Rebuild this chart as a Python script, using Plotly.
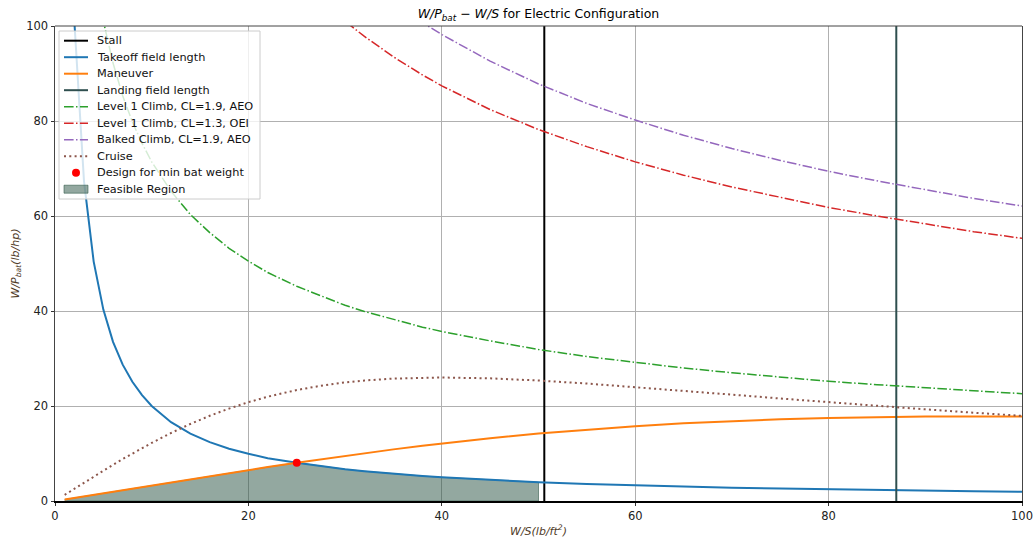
import numpy as np
import plotly.graph_objects as go

# Wing loading W/S (lb/ft^2) at which each constraint is tabulated
ws = [1, 2, 3, 4, 5, 6, 7, 8, 9, 10, 12, 14, 16, 18, 20, 22, 25, 28, 30, 32,
      35, 38, 40, 45, 50, 55, 60, 65, 70, 75, 80, 85, 90, 95, 100]

# Battery power loading W/P_bat (lb/hp) for each constraint
takeoff = [202.0, 101.0, 67.3, 50.4, 40.3, 33.5, 28.7, 25.1, 22.3, 20.0, 16.6,
           14.2, 12.4, 11.0, 9.95, 9.0, 8.06, 7.18, 6.69, 6.27, 5.72, 5.26, 4.99,
           4.42, 3.96, 3.59, 3.28, 3.02, 2.80, 2.61, 2.44, 2.29, 2.16, 2.04, 1.93]
maneuver = [0.32, 0.65, 0.97, 1.30, 1.63, 1.96, 2.29, 2.62, 2.95, 3.28, 3.94,
            4.59, 5.24, 5.88, 6.52, 7.14, 8.06, 8.95, 9.52, 10.07, 10.87, 11.63,
            12.11, 13.22, 14.20, 15.05, 15.76, 16.36, 16.83, 17.20, 17.47, 17.66,
            17.77, 17.81, 17.80]
climb_aeo = [225.8, 159.7, 130.4, 112.9, 101.0, 92.2, 85.3, 79.8, 75.3, 71.4,
             65.2, 60.3, 56.5, 53.2, 50.5, 48.1, 45.2, 42.7, 41.2, 39.9, 38.2,
             36.6, 35.7, 33.7, 31.9, 30.4, 29.2, 28.0, 27.0, 26.1, 25.2, 24.5,
             23.8, 23.2, 22.6]
climb_oei = [553.0, 391.0, 319.3, 276.5, 247.3, 225.8, 209.0, 195.5, 184.3,
             174.9, 159.6, 147.8, 138.3, 130.3, 123.7, 117.9, 110.6, 104.5,
             101.0, 97.8, 93.5, 89.7, 87.4, 82.4, 78.2, 74.6, 71.4, 68.6, 66.1,
             63.9, 61.8, 60.0, 58.3, 56.7, 55.3]
balked = [621.0, 439.1, 358.5, 310.5, 277.7, 253.5, 234.7, 219.6, 207.0, 196.4,
          179.3, 166.0, 155.3, 146.4, 138.9, 132.4, 124.2, 117.4, 113.4, 109.8,
          105.0, 100.7, 98.2, 92.6, 87.8, 83.7, 80.2, 77.0, 74.2, 71.7, 69.4,
          67.4, 65.5, 63.7, 62.1]
cruise = [1.30, 2.59, 3.88, 5.15, 6.40, 7.63, 8.83, 10.00, 11.14, 12.23, 14.32,
          16.22, 17.94, 19.46, 20.80, 21.96, 23.37, 24.43, 24.96, 25.37, 25.77,
          25.96, 26.00, 25.82, 25.36, 24.73, 23.99, 23.20, 22.39, 21.58, 20.79,
          20.03, 19.29, 18.59, 17.92]

# Vertical wing-loading limits
stall_ws = 50.6
landing_ws = 87.0

# Chosen design point
design_ws = 25.0
design_wp = 8.06

# Feasible region: below takeoff and maneuver, left of the stall limit
fill_limit = 50.0

ticks = [0, 20, 40, 60, 80, 100]

FONT = "DejaVu Sans"
DASHDOT = "9.6px,2.4px,1.5px,2.4px"
DOTTED = "2px,3.3px"
FILL = "rgba(40,82,66,0.5)"
FILL_EDGE = "rgba(40,82,66,0.55)"

ws_arr = np.array(ws)
bound = np.minimum(np.array(takeoff), np.array(maneuver))
mask = ws_arr <= fill_limit
fill_x = list(ws_arr[mask]) + [ws_arr[mask][-1], ws_arr[mask][0]]
fill_y = list(bound[mask]) + [0, 0]

# (label, kind, colour, width, dash)
entries = [
    ("Stall", "line", "black", 2, "solid"),
    ("Takeoff field length", "line", "#1f77b4", 2, "solid"),
    ("Maneuver", "line", "#ff7f0e", 2, "solid"),
    ("Landing field length", "line", "#2f4f4f", 2, "solid"),
    ("Level 1 Climb, CL=1.9, AEO", "line", "#2ca02c", 1.5, DASHDOT),
    ("Level 1 Climb, CL=1.3, OEI", "line", "#d62728", 1.5, DASHDOT),
    ("Balked Climb, CL=1.9, AEO", "line", "#9467bd", 1.5, DASHDOT),
    ("Cruise", "line", "#8c564b", 2, DOTTED),
    ("Design for min bat weight", "marker", "red", 0, None),
    ("Feasible Region", "patch", FILL, 0, None),
]
style = {e[0]: e for e in entries}

fig = go.Figure()

fig.add_trace(go.Scatter(
    x=fill_x, y=fill_y, mode="lines", fill="toself", fillcolor=FILL,
    line=dict(color=FILL_EDGE, width=1), name="Feasible Region"))


def line_trace(x, y, label):
    _, _, color, width, dash = style[label]
    return go.Scatter(x=x, y=y, mode="lines", name=label,
                      line=dict(color=color, width=width, dash=dash))


fig.add_trace(line_trace([stall_ws, stall_ws], [0, 100], "Stall"))
fig.add_trace(line_trace(ws, takeoff, "Takeoff field length"))
fig.add_trace(line_trace(ws, maneuver, "Maneuver"))
fig.add_trace(line_trace([landing_ws, landing_ws], [0, 100], "Landing field length"))
fig.add_trace(line_trace(ws, climb_aeo, "Level 1 Climb, CL=1.9, AEO"))
fig.add_trace(line_trace(ws, climb_oei, "Level 1 Climb, CL=1.3, OEI"))
fig.add_trace(line_trace(ws, balked, "Balked Climb, CL=1.9, AEO"))
fig.add_trace(line_trace(ws, cruise, "Cruise"))
fig.add_trace(go.Scatter(x=[design_ws], y=[design_wp], mode="markers",
                         marker=dict(color="red", size=8),
                         name="Design for min bat weight"))

# Figure geometry (pixels)
W, H = 1035, 539
ML, MR, MT, MB = 55, 13, 26, 38
PW, PH = W - ML - MR, H - MT - MB


def px(x):
    return (x - ML) / PW


def py(y):
    return (H - MB - y) / PH


# Legend box drawn in the upper-left corner of the axes
shapes = [
    dict(type="rect", xref="paper", yref="paper", layer="above",
         x0=px(59), x1=px(260), y0=py(199), y1=py(31),
         fillcolor="rgba(255,255,255,0.8)", line=dict(color="#cccccc", width=1)),
]
annotations = []
row0, step = 40.7, 16.5
for i, (label, kind, color, width, dash) in enumerate(entries):
    yc = row0 + step * i
    if kind == "line":
        shapes.append(dict(type="line", xref="paper", yref="paper", layer="above",
                           x0=px(64), x1=px(88), y0=py(yc), y1=py(yc),
                           line=dict(color=color, width=width, dash=dash)))
    elif kind == "marker":
        shapes.append(dict(type="circle", xref="paper", yref="paper", layer="above",
                           x0=px(72), x1=px(80), y0=py(yc + 4), y1=py(yc - 4),
                           fillcolor=color, line=dict(width=0)))
    else:
        shapes.append(dict(type="rect", xref="paper", yref="paper", layer="above",
                           x0=px(64), x1=px(88), y0=py(yc + 4), y1=py(yc - 4),
                           fillcolor=color, line=dict(color=FILL_EDGE, width=1)))
    annotations.append(dict(text=label, xref="paper", yref="paper",
                            x=px(95), y=py(yc), xanchor="left", yanchor="middle",
                            showarrow=False,
                            font=dict(family=FONT, size=11.3, color="#111")))

# Top spine
shapes.append(dict(type="line", xref="paper", yref="paper", x0=0, x1=1, y0=1, y1=1,
                   line=dict(color="#444", width=1)))

axis_common = dict(
    range=[0, 100], tickvals=ticks, automargin=False,
    showgrid=True, gridcolor="#b0b0b0", gridwidth=0.8,
    ticks="outside", ticklen=3.5, tickcolor="#333", tickwidth=0.8,
    tickfont=dict(family=FONT, size=11.5, color="#222"),
    zeroline=False, showline=True,
)

fig.update_layout(
    width=W, height=H,
    margin=dict(l=ML, r=MR, t=MT, b=MB),
    plot_bgcolor="white", paper_bgcolor="white",
    font=dict(family=FONT, color="#222"),
    showlegend=False,
    title=dict(
        text="<i>W/P<sub>bat</sub></i> − <i>W/S</i> for Electric Configuration",
        xref="paper", x=0.5, xanchor="center",
        yref="container", y=1 - 14 / H, yanchor="middle",
        font=dict(family=FONT, size=12.5, color="black")),
    xaxis=dict(**axis_common, linecolor="black", linewidth=1.5,
               title=dict(text="<i>W/S(lb/ft<sup>2</sup>)</i>", standoff=5,
                          font=dict(family=FONT, size=11, color="#503c28"))),
    yaxis=dict(**axis_common, linecolor="#444", linewidth=1, mirror=True,
               title=dict(text="<i>W/P<sub>bat</sub>(lb/hp)</i>", standoff=4,
                          font=dict(family=FONT, size=11, color="#503c28"))),
    shapes=shapes,
    annotations=annotations,
)

fig.write_html("out.html")
